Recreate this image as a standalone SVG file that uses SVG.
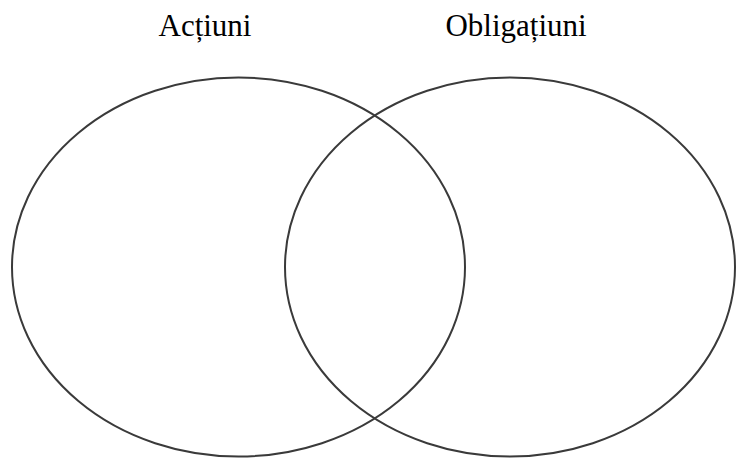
<svg xmlns="http://www.w3.org/2000/svg" width="736" height="459" viewBox="0 0 736 459">
<style>
.set{fill:none;stroke:#3a3a3a;stroke-width:2}
.lbl{font-family:"Liberation Serif","Times New Roman",serif;font-size:31px;fill:#000;text-anchor:middle}
</style>
<rect width="736" height="459" fill="#fff"/>
<g id="actiuni">
<ellipse class="set" cx="238.5" cy="267" rx="226.5" ry="189.5"/>
<text class="lbl" x="205" y="36">Acțiuni</text>
</g>
<g id="obligatiuni">
<ellipse class="set" cx="510" cy="267" rx="225" ry="189.5"/>
<text class="lbl" x="516" y="36">Obligațiuni</text>
</g>
<g id="connectors"/>
</svg>
